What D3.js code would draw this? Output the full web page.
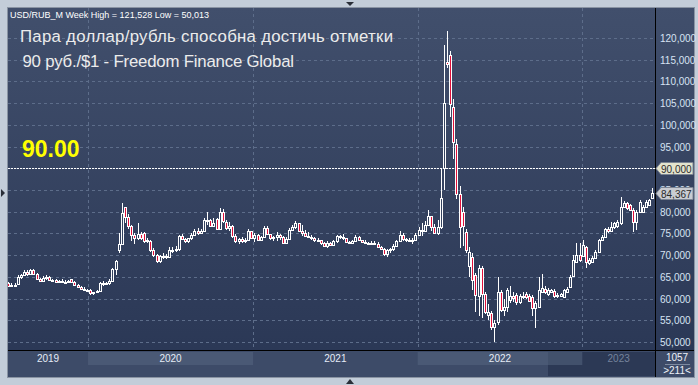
<!DOCTYPE html>
<html>
<head>
<meta charset="utf-8">
<script src="https://cdn.jsdelivr.net/npm/d3@7"></script>
<style>
  body { margin: 0; background: #c3cdd9; }
  svg { display: block; }
</style>
</head>
<body>
<script>
// weekly USD/RUB candles, Jul 2019 .. Jun 2023
const opens = [
  63.6,63.0,63.1,63.3,65.0,65.4,66.2,65.6,66.6,65.7,64.4,64.1,64.8,65.0,64.3,64.2,63.9,64.0,63.9,63.8,64.4,63.9,63.2,62.6,62.2,62.0,
  61.9,61.2,61.5,61.8,63.7,63.3,63.5,64.0,66.9,71.2,72.5,81.0,78.7,76.8,74.6,73.9,74.9,75.2,73.2,73.2,71.2,70.0,68.6,69.7,69.9,69.6,
  71.2,71.2,71.5,74.5,73.7,73.2,73.9,74.6,75.6,75.2,75.6,78.2,78.0,76.8,78.3,76.0,80.0,77.6,76.2,76.8,74.5,73.2,73.8,73.2,73.5,75.5,
  73.9,74.6,73.6,74.2,76.2,74.8,73.9,74.1,74.6,74.1,72.9,73.8,75.7,76.5,77.4,75.6,75.0,74.5,74.1,74.0,73.5,73.4,72.9,72.0,72.9,72.4,
  73.2,74.4,74.1,73.9,73.0,72.8,73.3,74.1,73.5,73.1,72.7,72.8,72.9,72.6,71.8,71.4,70.2,71.1,71.3,72.2,73.2,74.7,73.7,73.5,73.4,73.6,
  74.6,75.7,75.6,77.0,78.9,76.4,75.2,76.5,90.0,114.5,116.2,104.1,95.5,84.0,80.0,75.3,67.6,69.6,65.4,60.5,67.0,61.0,56.2,56.7,53.5,
  54.7,61.6,57.4,58.0,59.7,60.5,60.8,59.3,60.3,61.1,60.7,60.3,57.8,58.1,61.6,62.2,61.0,61.6,61.8,60.5,60.6,60.3,61.5,62.7,65.2,
  68.5,70.0,69.7,71.9,68.1,68.5,69.4,70.8,73.5,74.2,76.0,75.6,76.4,76.6,77.3,81.2,81.9,81.5,80.4,77.7,80.0,80.0,81.2,81.5,83.1
];
const highs = [
  63.9,63.5,63.6,65.4,65.7,66.6,66.5,66.9,66.8,65.8,64.7,65.1,65.4,65.3,64.6,64.4,64.3,64.4,64.2,64.3,64.6,64.1,63.4,62.9,62.6,62.3,
  62.1,61.6,62.0,63.9,64.1,63.9,64.5,67.1,68.9,75.0,81.9,81.2,79.5,77.0,75.2,77.5,75.3,75.4,74.0,73.4,71.6,70.3,70.0,70.6,70.3,71.8,
  71.9,72.2,74.6,74.9,74.0,74.0,75.0,76.0,76.2,76.0,78.5,80.0,78.4,78.6,78.5,80.9,80.6,78.2,77.6,77.0,74.9,74.0,74.2,73.9,76.1,75.6,
  75.0,74.8,74.4,76.6,76.6,74.9,74.4,75.3,74.9,74.5,74.1,76.2,77.0,77.9,77.5,77.0,75.8,75.3,74.6,74.2,73.9,73.6,73.1,73.2,73.1,73.4,
  74.7,74.6,74.8,74.0,73.3,73.6,74.6,74.3,73.6,73.5,73.1,73.2,73.2,73.0,72.0,71.6,71.3,71.6,72.6,73.6,75.5,75.0,74.0,74.0,74.0,75.2,
  76.4,77.3,77.9,80.4,79.0,77.2,78.2,90.0,118.4,121.5,117.0,105.9,96.7,86.0,81.0,76.0,71.9,70.5,66.0,67.7,67.5,61.5,58.8,57.2,55.0,
  65.0,62.0,60.0,62.4,62.8,61.5,61.2,61.0,61.5,61.5,61.0,60.8,59.5,65.0,65.6,62.8,62.5,62.3,62.1,61.3,61.2,62.2,62.6,65.4,70.0,
  72.9,72.7,73.5,72.2,69.3,69.8,71.2,73.8,74.6,76.3,76.5,77.7,77.6,78.0,83.5,82.5,82.3,81.7,80.8,80.3,82.6,81.5,82.6,83.0,85.4
];
const lows = [
  62.8,62.6,62.9,63.2,64.6,65.1,65.2,65.5,65.5,64.2,63.8,63.9,64.3,64.1,63.9,63.6,63.5,63.6,63.5,63.6,63.8,63.0,62.4,61.9,61.7,61.6,
  60.9,60.8,61.3,61.7,62.9,63.1,63.2,63.9,65.5,70.5,72.3,77.5,76.0,73.3,72.5,73.6,73.6,72.9,72.7,70.8,69.6,68.3,68.2,69.2,69.0,69.4,
  70.6,70.8,71.0,73.4,72.9,72.9,73.5,74.3,74.6,74.8,75.4,77.0,76.6,76.5,75.8,75.8,77.4,75.8,75.6,74.0,72.9,72.6,72.8,72.7,73.3,73.7,
  73.1,73.3,73.4,74.0,74.6,73.4,73.3,73.3,73.5,72.7,72.5,73.7,75.5,76.1,75.3,74.4,74.2,73.9,73.5,73.1,73.1,72.4,71.8,71.6,72.2,72.3,
  72.9,73.8,73.6,72.7,72.5,72.6,73.0,73.3,72.8,72.6,72.3,72.5,72.4,71.6,71.2,69.8,69.6,70.6,70.9,71.9,73.1,73.2,73.1,73.1,72.6,73.4,
  74.4,74.3,75.4,76.9,75.5,74.8,74.6,76.0,85.0,113.0,101.9,92.1,83.0,71.6,72.0,70.5,65.0,62.0,57.0,56.0,55.6,56.5,55.0,52.8,50.0,
  54.0,56.8,56.0,57.0,59.0,59.3,58.5,58.8,60.0,60.0,59.2,56.0,53.2,57.8,61.2,61.0,60.6,61.2,60.2,60.2,60.3,60.1,61.3,62.5,65.0,
  68.2,68.5,69.5,67.0,67.8,68.2,69.2,70.6,73.2,74.0,75.2,75.4,76.0,76.3,77.0,80.8,80.5,80.2,75.4,75.8,79.8,79.7,81.0,81.3,82.9
];
const closes = [
  63.0,63.1,63.2,65.0,65.4,66.2,65.6,66.6,65.7,64.4,64.1,64.8,65.0,64.3,64.2,63.9,64.0,63.9,63.8,64.0,63.9,63.2,62.6,62.2,62.0,61.9,
  61.2,61.5,61.8,63.7,63.3,63.5,64.0,66.9,68.6,72.5,79.8,78.7,76.8,74.6,73.9,74.9,74.0,73.2,73.4,71.2,70.0,68.6,69.7,69.9,69.6,71.2,
  71.2,71.5,74.3,73.7,73.2,73.9,74.6,75.6,75.2,75.6,78.2,78.0,76.8,77.5,76.0,80.0,77.8,76.2,76.8,74.3,73.2,73.8,73.2,73.5,75.5,73.9,
  74.6,73.6,74.2,76.2,74.8,73.9,74.1,74.6,74.1,72.9,73.8,75.7,76.5,77.4,75.6,75.0,74.5,74.1,74.0,73.5,73.4,72.9,72.0,72.9,72.4,73.2,
  74.4,74.1,73.9,73.0,72.8,73.3,74.1,73.5,73.1,72.7,72.8,72.9,72.6,71.8,71.4,70.2,71.1,71.3,72.2,73.2,74.7,73.7,73.5,73.4,73.6,74.6,
  75.7,75.6,77.0,78.9,76.4,75.2,76.5,83.1,105.0,114.0,104.7,96.1,84.0,76.5,76.6,71.2,70.7,64.3,60.8,67.0,61.0,57.0,57.0,53.5,54.4,
  61.6,57.4,58.0,62.0,60.5,60.1,59.3,60.5,60.7,60.3,59.5,57.8,59.0,62.0,62.4,61.4,62.0,62.0,60.5,60.9,61.0,61.9,62.2,65.0,68.9,
  70.0,68.8,72.3,68.5,68.8,69.4,70.8,73.5,74.2,76.0,75.6,76.4,77.3,77.7,81.2,81.9,80.8,80.5,77.7,80.0,82.3,81.2,82.3,82.8,84.367
];
const yTicks = [50, 55, 60, 65, 70, 75, 80, 85, 95, 100, 105, 110, 115, 120];
const yearLabels = ["2019", "2020", "2021", "2022", "2023"];
const titleLines = ["Пара доллар/рубль способна достичь отметки", " 90 руб./$1 - Freedom Finance Global"];
const header = "USD/RUB_M Week High = 121,528 Low = 50,013";
const level = 90;
const lastClose = 84.367;

const W = 698, H = 385;
const plotL = 8, plotR = 655, plotT = 8, plotB = 350, axisR = 694, botB = 377;
const font = "Liberation Sans, Arial, sans-serif";

const weeks = d3.utcMonday.range(new Date(Date.UTC(2019, 6, 8)), new Date(Date.UTC(2023, 5, 6)));
const candles = weeks.map((d, i) => ({date: d, o: opens[i], h: highs[i], l: lows[i], c: closes[i]}));

const x = d3.scaleUtc()
  .domain([weeks[0], weeks[weeks.length - 1]])
  .range([8.2, 652.2]);
const y = d3.scaleLinear().domain([50, 120]).range([342, 38]);

const svg = d3.select("body").append("svg").attr("width", W).attr("height", H);

const defs = svg.append("defs");
const grad = defs.append("linearGradient").attr("id", "bg").attr("x1", 0).attr("y1", 0).attr("x2", 0).attr("y2", 1);
grad.append("stop").attr("offset", "0%").attr("stop-color", "#414f6c");
grad.append("stop").attr("offset", "100%").attr("stop-color", "#2b3856");
defs.append("clipPath").attr("id", "plotclip").append("rect")
  .attr("x", plotL).attr("y", plotT).attr("width", plotR - plotL).attr("height", plotB - plotT);

// frame
svg.append("rect").attr("x", plotL - 1).attr("y", plotT - 1).attr("width", axisR - plotL + 2).attr("height", botB - plotT + 2)
  .attr("fill", "#8a94a3");
svg.append("rect").attr("x", plotL).attr("y", plotT).attr("width", axisR - plotL).attr("height", plotB - plotT)
  .attr("fill", "url(#bg)");
svg.append("rect").attr("x", plotL).attr("y", plotB).attr("width", axisR - plotL).attr("height", botB - plotB)
  .attr("fill", "#3d4b68");

// year bands on the time axis
const years = x.ticks(d3.utcYear.every(1));
const yearEdges = [x.range()[0] - 0.2].concat(years.map(x), [plotR]);
svg.append("rect").attr("x", x(new Date(Date.UTC(2022, 9, 17)))).attr("y", plotB + 2)
  .attr("width", plotR - x(new Date(Date.UTC(2022, 9, 17)))).attr("height", botB - plotB - 3).attr("fill", "#2c3955");
[1, 3].forEach(k => {
  svg.append("rect").attr("x", yearEdges[k]).attr("y", plotB + 2)
    .attr("width", yearEdges[k + 1] - yearEdges[k]).attr("height", 13)
    .attr("fill", "#56667f").attr("opacity", 0.55);
});
svg.selectAll(".yr").data(yearLabels).join("text")
  .attr("x", (d, k) => (yearEdges[k] + yearEdges[k + 1]) / 2)
  .attr("y", 362)
  .attr("text-anchor", "middle")
  .attr("font-family", font)
  .attr("font-size", 10)
  .attr("fill", (d, k) => k === 4 ? "#75839c" : "#e6edf7")
  .text(d => d);

// grid
const grid = svg.append("g").attr("stroke", "#5d6d8a").attr("stroke-dasharray", "3,3").attr("stroke-width", 1);
grid.selectAll(".hg").data(yTicks.concat([90])).join("line")
  .attr("x1", plotL).attr("x2", plotR)
  .attr("y1", d => Math.round(y(d)) + 0.5).attr("y2", d => Math.round(y(d)) + 0.5);
grid.selectAll(".vg").data(years).join("line")
  .attr("x1", d => Math.round(x(d)) + 0.5).attr("x2", d => Math.round(x(d)) + 0.5)
  .attr("y1", plotT).attr("y2", plotB);

// 90 level
svg.append("line").attr("x1", plotL).attr("x2", plotR)
  .attr("y1", Math.round(y(level)) + 0.5).attr("y2", Math.round(y(level)) + 0.5)
  .attr("stroke", "#ffffff").attr("stroke-dasharray", "2,1");

// candles
const cg = svg.append("g").attr("clip-path", "url(#plotclip)").attr("shape-rendering", "crispEdges");
cg.selectAll(".wick").data(candles).join("line")
  .attr("x1", d => Math.round(x(d.date)) + 0.5).attr("x2", d => Math.round(x(d.date)) + 0.5)
  .attr("y1", d => Math.round(y(d.h))).attr("y2", d => Math.round(y(d.l)))
  .attr("stroke", "#ffffff");
cg.selectAll(".body").data(candles).join("rect")
  .attr("x", d => Math.round(x(d.date)) - 0.5)
  .attr("y", d => Math.round(y(Math.max(d.o, d.c))) + 0.5)
  .attr("width", 2)
  .attr("height", d => Math.max(1, Math.round(y(Math.min(d.o, d.c))) - Math.round(y(Math.max(d.o, d.c)))))
  .attr("fill", d => d.c < d.o ? "#e0103a" : "#34425f")
  .attr("stroke", "#ffffff");

// axis separators
svg.append("line").attr("x1", plotR + 0.5).attr("x2", plotR + 0.5).attr("y1", plotT).attr("y2", botB).attr("stroke", "#000");
svg.append("line").attr("x1", plotL).attr("x2", axisR).attr("y1", plotB + 0.5).attr("y2", plotB + 0.5).attr("stroke", "#000");

// price labels (85,000 sits under the last-price tag, as in the original)
svg.selectAll(".yl").data(yTicks).join("text")
  .attr("x", 660).attr("y", d => y(d) + 4)
  .attr("font-family", font).attr("font-size", 10)
  .attr("fill", "#d7e3f3")
  .text(d => d3.format(",.3f")(d).replace(".", ","));

function priceTag(v, fill, txt) {
  const yy = Math.round(y(v)) + 0.5;
  svg.append("path")
    .attr("d", `M${plotR + 1},${yy} L${plotR + 6},${yy - 6} L${plotR + 38},${yy - 6} L${plotR + 38},${yy + 6} L${plotR + 6},${yy + 6} Z`)
    .attr("fill", fill).attr("stroke", "#7c8594");
  svg.append("text").attr("x", plotR + 6).attr("y", yy + 4)
    .attr("font-family", font).attr("font-size", 10)
    .attr("fill", "#2a2a2a").text(txt);
}
priceTag(level, "#e3e3cd", "90,000");
priceTag(lastClose, "#c9ccd2", d3.format(",.3f")(lastClose).replace(".", ","));

// bars counter box
svg.append("text").attr("x", 677).attr("y", 361).attr("text-anchor", "middle")
  .attr("font-family", font).attr("font-size", 10).attr("fill", "#eef2f8").text("1057");
svg.append("line").attr("x1", 665).attr("x2", 690).attr("y1", 364.5).attr("y2", 364.5).attr("stroke", "#7d8aa0");
svg.append("text").attr("x", 677).attr("y", 374).attr("text-anchor", "middle")
  .attr("font-family", font).attr("font-size", 10).attr("fill", "#eef2f8").text(">211<");

// texts
svg.append("text").attr("x", 10).attr("y", 18)
  .attr("font-family", font).attr("font-size", 9).attr("fill", "#ffffff")
  .text(header);
const titleWidths = [373, 276];
svg.selectAll(".tt").data(titleLines).join("text")
  .attr("x", (d, k) => k === 0 ? 20 : 18).attr("y", (d, k) => 42 + k * 25)
  .attr("font-family", font).attr("font-size", 16.8)
  .attr("textLength", (d, k) => titleWidths[k]).attr("lengthAdjust", "spacing")
  .attr("fill", "#ececec").style("white-space", "pre")
  .text(d => d);
svg.append("text").attr("x", 22).attr("y", 157)
  .attr("font-family", font).attr("font-size", 23).attr("font-weight", "bold")
  .attr("fill", "#ffff00").text("90.00");

// small scroll markers
svg.append("path").attr("d", "M346,2 L354,2 L350,6 Z").attr("fill", "#2a2f38");
svg.append("path").attr("d", "M346,384 L354,384 L350,379 Z").attr("fill", "#2a2f38");
svg.append("path").attr("d", "M1,189 L5,193 L1,197 Z").attr("fill", "#2a2f38");
</script>
</body>
</html>
